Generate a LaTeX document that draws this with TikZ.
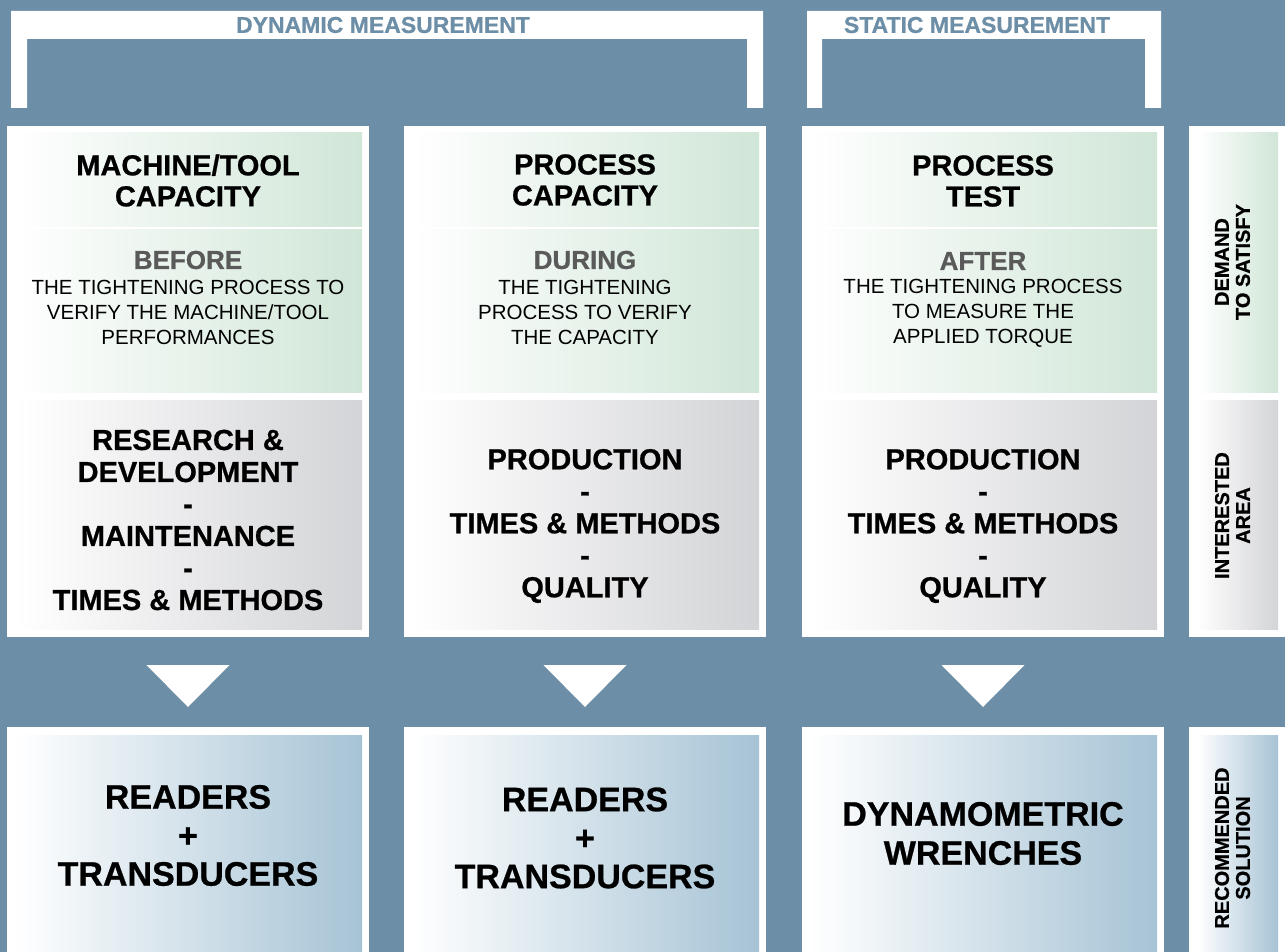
\documentclass[tikz,border=0pt]{standalone}
\usepackage{fontspec}
\setmainfont{Liberation Sans}[BoldFeatures={FakeBold=0.7}]
\definecolor{slate}{HTML}{6C8EA6}
\definecolor{palegreen}{HTML}{D0E6D7}
\definecolor{palegray}{HTML}{D3D4D7}
\definecolor{paleblue}{HTML}{A6C3D5}
\definecolor{headgray}{HTML}{5A5A5A}
\begin{document}
\begin{tikzpicture}[x=1pt,y=-1pt,
  panel/.style={anchor=north west, inner sep=0pt, outer sep=0pt, draw=none},
  framebox/.style={panel, fill=white},
  greenpanel/.style={panel, left color=white, right color=palegreen},
  graypanel/.style={panel, left color=white, right color=palegray},
  bluepanel/.style={panel, left color=white, right color=paleblue},
  bracketlabel/.style={text=slate, font=\bfseries\fontsize{23}{25}\selectfont},
  titletext/.style={align=center, font=\bfseries\fontsize{29}{31}\selectfont},
  headtext/.style={text=headgray, font=\bfseries\fontsize{26}{28}\selectfont},
  bodytext/.style={align=center, font=\fontsize{20.5}{25}\selectfont},
  areatext/.style={align=center, font=\bfseries\fontsize{29}{32}\selectfont},
  soltext/.style={align=center, font=\bfseries\fontsize{34}{38.5}\selectfont},
  sidetext/.style={align=center, rotate=90, font=\bfseries\fontsize{20}{21}\selectfont},
  pointer/.style={fill=white, draw=none}]

\useasboundingbox (0,0) rectangle (1285,952);
\fill[slate] (0,0) rectangle (1285,952);

% measurement brackets
\fill[white] (11,108) -- (11,11) -- (763,11) -- (763,108) -- (747,108)
  -- (747,39) -- (27,39) -- (27,108) -- cycle;
\fill[white] (807,108) -- (807,11) -- (1161,11) -- (1161,108) -- (1145,108)
  -- (1145,39) -- (822,39) -- (822,108) -- cycle;
\node[bracketlabel] (dyn) at (383,25) {DYNAMIC MEASUREMENT};
\node[bracketlabel] (stat) at (977,25) {STATIC MEASUREMENT};

% white column frames
\node[framebox, minimum width=362pt, minimum height=511pt] (f1) at (7,126) {};
\node[framebox, minimum width=362pt, minimum height=511pt] (f2) at (404,126) {};
\node[framebox, minimum width=362pt, minimum height=511pt] (f3) at (802,126) {};
\node[framebox, minimum width=96pt, minimum height=511pt] (f4) at (1189,126) {};
\node[framebox, minimum width=362pt, minimum height=225pt] (g1) at (7,727) {};
\node[framebox, minimum width=362pt, minimum height=225pt] (g2) at (404,727) {};
\node[framebox, minimum width=362pt, minimum height=225pt] (g3) at (802,727) {};
\node[framebox, minimum width=96pt, minimum height=225pt] (g4) at (1189,727) {};

% shaded panels
\foreach \n/\x in {1/15, 2/412, 3/810} {
  \node[greenpanel, minimum width=347pt, minimum height=94pt] (cap\n) at (\x,133) {};
  \node[greenpanel, minimum width=347pt, minimum height=162pt] (when\n) at (\x,230) {};
  \node[graypanel, minimum width=347pt, minimum height=229pt] (area\n) at (\x,400) {};
  \node[bluepanel, minimum width=347pt, minimum height=217pt] (sol\n) at (\x,735) {};
}
\node[greenpanel, minimum width=81pt, minimum height=259pt] (demand) at (1197,133) {};
\node[graypanel, minimum width=81pt, minimum height=229pt] (interest) at (1197,400) {};
\node[bluepanel, minimum width=81pt, minimum height=217pt] (recommend) at (1197,735) {};

% column 1
\node[titletext] (t1) at (188,180.5) {MACHINE/TOOL\\CAPACITY};
\node[headtext] (h1) at (188,260) {BEFORE};
\node[bodytext] (b1) at (188,312) {THE TIGHTENING PROCESS TO\\VERIFY THE MACHINE/TOOL\\PERFORMANCES};
\node[areatext] (a1) at (188,520) {RESEARCH \&\\DEVELOPMENT\\-\\MAINTENANCE\\-\\TIMES \& METHODS};
\node[soltext] (s1) at (188,835.5) {READERS\\+\\TRANSDUCERS};

% column 2
\node[titletext] (t2) at (585,180) {PROCESS\\CAPACITY};
\node[headtext] (h2) at (585,260) {DURING};
\node[bodytext] (b2) at (585,312) {THE TIGHTENING\\PROCESS TO VERIFY\\THE CAPACITY};
\node[areatext] (a2) at (585,526) {PRODUCTION\\-\\TIMES \& METHODS\\-\\QUALITY};
\node[soltext] (s2) at (585,838) {READERS\\+\\TRANSDUCERS};

% column 3
\node[titletext] (t3) at (983,181) {PROCESS\\TEST};
\node[headtext] (h3) at (983,261) {AFTER};
\node[bodytext] (b3) at (983,313) {THE TIGHTENING PROCESS\\TO MEASURE THE\\APPLIED TORQUE};
\node[areatext] (a3) at (983,526) {PRODUCTION\\-\\TIMES \& METHODS\\-\\QUALITY};
\node[soltext, font=\bfseries\fontsize{34}{39}\selectfont] (s3) at (983,833.5) {DYNAMOMETRIC\\WRENCHES};

% row labels
\node[sidetext] (l1) at (1232.5,262) {DEMAND\\TO SATISFY};
\node[sidetext] (l2) at (1232.5,515.5) {INTERESTED\\AREA};
\node[sidetext] (l3) at (1232.5,848) {RECOMMENDED\\SOLUTION};

% downward pointers between area and solution rows
\foreach \n/\c in {1/188, 2/585, 3/983} {
  \coordinate (pl\n) at (\c-41.5,665);
  \coordinate (pr\n) at (\c+41.5,665);
  \coordinate (pt\n) at (\c,707);
  \fill[pointer] (pl\n) -- (pr\n) -- (pt\n) -- cycle;
}
\end{tikzpicture}
\end{document}
